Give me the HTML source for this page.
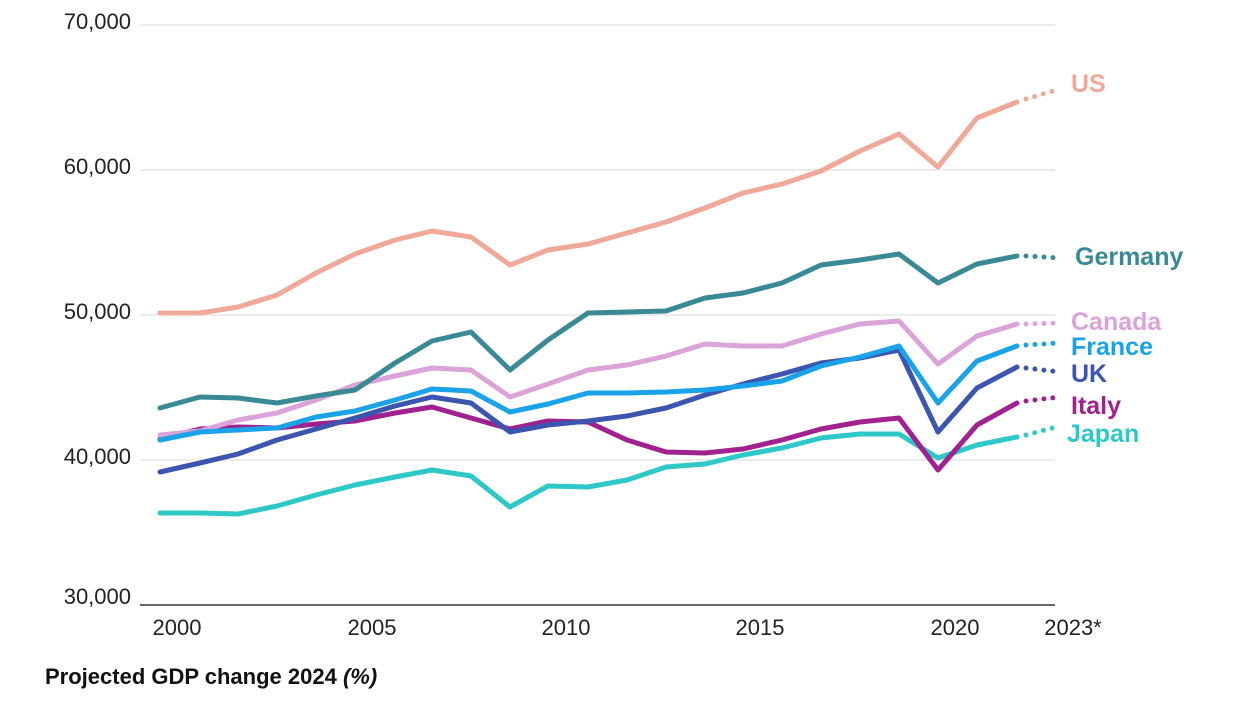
<!DOCTYPE html>
<html><head><style>
body{margin:0;background:#fff;width:1245px;height:699px;overflow:hidden;font-family:"Liberation Sans",sans-serif}
</style></head><body>
<svg width="1245" height="699" xmlns="http://www.w3.org/2000/svg" font-family="Liberation Sans, sans-serif">
<g stroke="#d9d9d9" stroke-width="1">
<line x1="140" y1="25" x2="1055" y2="25"/><line x1="140" y1="170" x2="1055" y2="170"/>
<line x1="140" y1="315" x2="1055" y2="315"/><line x1="140" y1="460" x2="1055" y2="460"/>
</g>
<line x1="140" y1="605" x2="1055" y2="605" stroke="#333" stroke-width="1.5"/>
<g font-size="22" fill="#222" text-anchor="end">
<text x="131" y="29">70,000</text><text x="131" y="174">60,000</text><text x="131" y="319">50,000</text><text x="131" y="464">40,000</text><text x="131" y="604">30,000</text>
</g>
<g font-size="22" fill="#222" text-anchor="middle">
<text x="177" y="635">2000</text><text x="372" y="635">2005</text><text x="566" y="635">2010</text><text x="760" y="635">2015</text><text x="955" y="635">2020</text><text x="1073" y="635">2023*</text>
</g>
<text x="45" y="684" font-size="22" font-weight="bold" fill="#111">Projected GDP change 2024 <tspan font-style="italic">(%)</tspan></text>
<g fill="none" stroke-width="5" stroke-linejoin="round" stroke-linecap="round">
<polyline stroke="#2ec8c8" points="160,513 200,513 238,514 277,506 316,495 355,485 395,477 432,470 471,476 510,507 548,486 588,487 627,480 666,467 705,464 743,455 782,448 821,438 860,434 899,434 938,458 977,445 1017,437"/>
<polyline stroke="#a0218f" points="160,439 200,429 238,427 277,428 316,424 355,421 395,413 432,407 471,418 510,429 548,421 588,422 627,440 666,452 705,453 743,449 782,440 821,429 860,422 899,418 938,470 977,425 1017,403"/>
<polyline stroke="#3b55b0" points="160,472 200,463 238,454 277,440 316,429 355,418 395,406 432,397 471,403 510,432 548,425 588,421 627,416 666,408 705,395 743,384 782,374 821,363 860,358 899,350 938,432 977,388 1017,367"/>
<polyline stroke="#dca3d9" points="160,435 200,431 238,420 277,413 316,400 355,385 395,376 432,368 471,370 510,397 548,384 588,370 627,365 666,356 705,344 743,346 782,346 821,334 860,324 899,321 938,364 977,336 1017,324"/>
<polyline stroke="#1aa3e8" points="160,440 200,432 238,430 277,428 316,417 355,411 395,400 432,389 471,391 510,412 548,404 588,393 627,393 666,392 705,390 743,386 782,381 821,366 860,357 899,346 938,403 977,361 1017,346"/>
<polyline stroke="#3a8a96" points="160,408 200,397 238,398 277,403 316,396 355,390 395,363 432,341 471,332 510,370 548,340 588,313 627,312 666,311 705,298 743,293 782,283 821,265 860,260 899,254 938,283 977,264 1017,256"/>
<polyline stroke="#f0a899" points="160,313 200,313 238,307 277,295 316,273 355,254 395,240 432,231 471,237 510,265 548,250 588,244 627,233 666,222 705,208 743,193 782,184 821,171 860,151 899,134 938,167 977,118 1017,102"/>
</g>
<g fill="none" stroke-width="5" stroke-linecap="round" stroke-dasharray="0 9">
<line stroke="#f0a899" x1="1026" y1="99" x2="1060" y2="89"/>
<line stroke="#3a8a96" x1="1026" y1="256" x2="1060" y2="258"/>
<line stroke="#dca3d9" x1="1026" y1="324" x2="1060" y2="323"/>
<line stroke="#1aa3e8" x1="1026" y1="345" x2="1060" y2="343"/>
<line stroke="#3b55b0" x1="1026" y1="368" x2="1060" y2="372"/>
<line stroke="#a0218f" x1="1026" y1="401" x2="1060" y2="397"/>
<line stroke="#2ec8c8" x1="1026" y1="435" x2="1060" y2="426"/>
</g>
<g font-size="25" font-weight="bold">
<text x="1071" y="92" fill="#f0a899">US</text>
<text x="1075" y="265" fill="#3a8a96">Germany</text>
<text x="1071" y="330" fill="#dca3d9">Canada</text>
<text x="1071" y="355" fill="#1aa3e8">France</text>
<text x="1071" y="382" fill="#3b55b0">UK</text>
<text x="1071" y="414" fill="#a0218f">Italy</text>
<text x="1067" y="442" fill="#2ec8c8">Japan</text>
</g>
</svg>
</body></html>
